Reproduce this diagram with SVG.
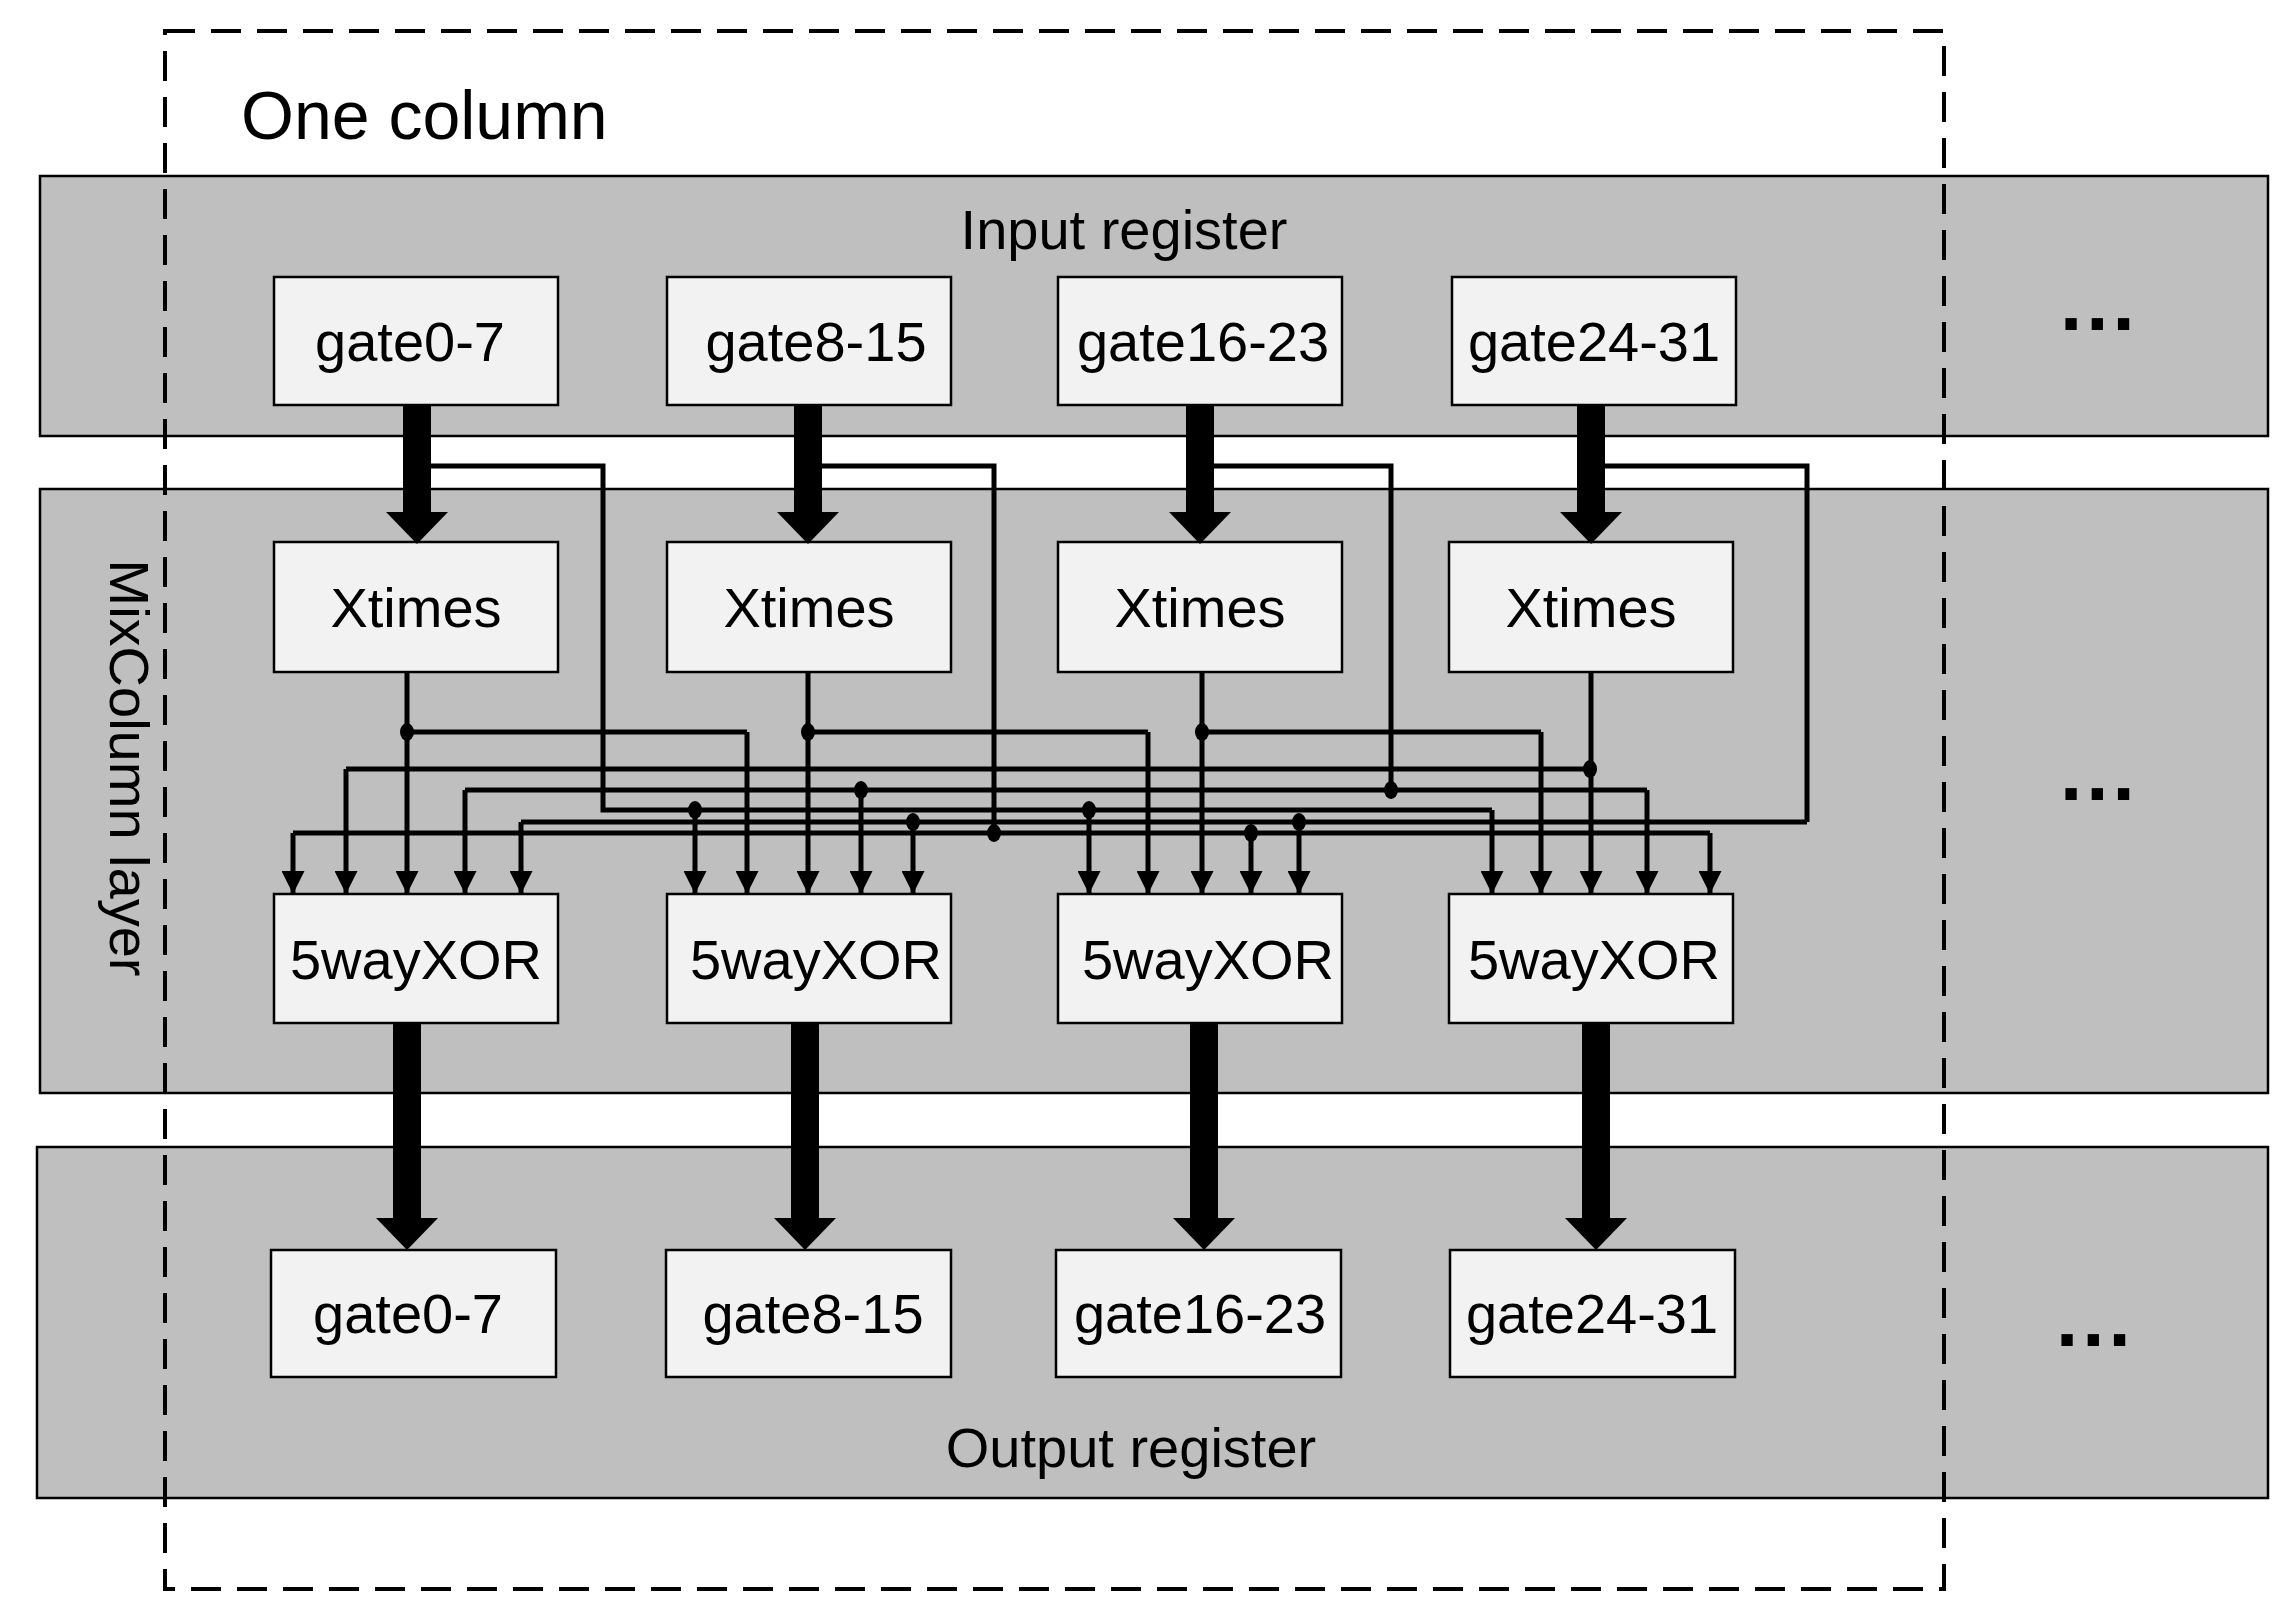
<svg xmlns="http://www.w3.org/2000/svg" width="2287" height="1612" viewBox="0 0 2287 1612">
<style>
.band{fill:#bfbfbf;stroke:#000;stroke-width:2.5}
.box{fill:#f2f2f2;stroke:#000;stroke-width:2.5}
.t{font-family:"Liberation Sans",Arial,sans-serif;font-size:56px;fill:#000;text-anchor:middle}
.w{fill:none;stroke:#000;stroke-width:5}
.a{fill:none;stroke:#000;stroke-width:5;marker-end:url(#ah)}
.th{fill:none;stroke:#000;stroke-width:28;marker-end:url(#tah)}
.dot{fill:#000}
.dots{font-family:"Liberation Sans",Arial,sans-serif;font-size:80px;font-weight:bold;letter-spacing:4px}
</style>
<defs>
<marker id="ah" markerUnits="userSpaceOnUse" markerWidth="23" markerHeight="23" refX="23" refY="11.5" orient="auto"><path d="M0,0 L23,11.5 L0,23 z" fill="#000"/></marker>
<marker id="tah" markerUnits="userSpaceOnUse" markerWidth="32" markerHeight="62" refX="0" refY="31" orient="auto"><path d="M0,0 L32,31 L0,62 z" fill="#000"/></marker>
</defs>
<rect width="2287" height="1612" fill="#fff"/>
<g id="input-register"><rect class="band" x="40" y="176" width="2228" height="260"/><text class="t" x="1124" y="249">Input register</text><text class="dots" x="2060" y="330">...</text></g>
<g id="mixcolumn-layer"><rect class="band" x="40" y="489" width="2228" height="604"/><text class="t" transform="translate(110,768) rotate(90)">MixColumn layer</text><text class="dots" x="2060" y="800">...</text></g>
<g id="output-register"><rect class="band" x="37" y="1147" width="2231" height="351"/><text class="t" x="1131" y="1467">Output register</text><text class="dots" x="2056" y="1346">...</text></g>
<g id="in0"><rect class="box" x="274" y="277" width="284" height="128"/><text class="t" x="410" y="361">gate0-7</text></g>
<g id="in1"><rect class="box" x="667" y="277" width="284" height="128"/><text class="t" x="816" y="361">gate8-15</text></g>
<g id="in2"><rect class="box" x="1058" y="277" width="284" height="128"/><text class="t" x="1203" y="361">gate16-23</text></g>
<g id="in3"><rect class="box" x="1452" y="277" width="284" height="128"/><text class="t" x="1594" y="361">gate24-31</text></g>
<g id="xt0"><rect class="box" x="274" y="542" width="284" height="130"/><text class="t" x="416" y="627">Xtimes</text></g>
<g id="xt1"><rect class="box" x="667" y="542" width="284" height="130"/><text class="t" x="809" y="627">Xtimes</text></g>
<g id="xt2"><rect class="box" x="1058" y="542" width="284" height="130"/><text class="t" x="1200" y="627">Xtimes</text></g>
<g id="xt3"><rect class="box" x="1449" y="542" width="284" height="130"/><text class="t" x="1591" y="627">Xtimes</text></g>
<g id="xor0"><rect class="box" x="274" y="894" width="284" height="129"/><text class="t" x="416" y="979">5wayXOR</text></g>
<g id="xor1"><rect class="box" x="667" y="894" width="284" height="129"/><text class="t" x="816" y="979">5wayXOR</text></g>
<g id="xor2"><rect class="box" x="1058" y="894" width="284" height="129"/><text class="t" x="1208" y="979">5wayXOR</text></g>
<g id="xor3"><rect class="box" x="1449" y="894" width="284" height="129"/><text class="t" x="1594" y="979">5wayXOR</text></g>
<g id="out0"><rect class="box" x="271" y="1250" width="285" height="127"/><text class="t" x="408" y="1333">gate0-7</text></g>
<g id="out1"><rect class="box" x="666" y="1250" width="285" height="127"/><text class="t" x="813" y="1333">gate8-15</text></g>
<g id="out2"><rect class="box" x="1056" y="1250" width="285" height="127"/><text class="t" x="1200" y="1333">gate16-23</text></g>
<g id="out3"><rect class="box" x="1450" y="1250" width="285" height="127"/><text class="t" x="1592" y="1333">gate24-31</text></g>
<g id="connectors">
<path class="w" d="M417,466 H603 V810 H1492 M808,466 H994 V833 M1200,466 H1391 V790 M1591,466 H1807 V822"/>
<path class="w" d="M346,769 H1590 M465,790 H1647 M521,822 H1807 M293,833 H1710 M407,732 H747 M808,732 H1148 M1202,732 H1541"/>
<path class="a" d="M407,672 V894"/><path class="a" d="M808,672 V894"/><path class="a" d="M1202,672 V894"/><path class="a" d="M1591,672 V894"/>
<path class="a" d="M293,833 V894"/><path class="a" d="M346,769 V894"/><path class="a" d="M465,790 V894"/><path class="a" d="M521,822 V894"/>
<path class="a" d="M695,810 V894"/><path class="a" d="M747,732 V894"/><path class="a" d="M861,790 V894"/><path class="a" d="M913,822 V894"/>
<path class="a" d="M1089,810 V894"/><path class="a" d="M1148,732 V894"/><path class="a" d="M1251,833 V894"/><path class="a" d="M1299,822 V894"/>
<path class="a" d="M1492,810 V894"/><path class="a" d="M1541,732 V894"/><path class="a" d="M1647,790 V894"/><path class="a" d="M1710,833 V894"/>
<g class="dot">
<ellipse cx="407" cy="732" rx="7" ry="9"/><ellipse cx="808" cy="732" rx="7" ry="9"/><ellipse cx="1202" cy="732" rx="7" ry="9"/><ellipse cx="1590" cy="769" rx="7" ry="9"/>
<ellipse cx="695" cy="810" rx="7" ry="9"/><ellipse cx="1089" cy="810" rx="7" ry="9"/><ellipse cx="861" cy="790" rx="7" ry="9"/><ellipse cx="1391" cy="790" rx="7" ry="9"/>
<ellipse cx="913" cy="822" rx="7" ry="9"/><ellipse cx="1299" cy="822" rx="7" ry="9"/><ellipse cx="994" cy="833" rx="7" ry="9"/><ellipse cx="1251" cy="833" rx="7" ry="9"/>
</g>
<path class="th" d="M417,405 V512"/><path class="th" d="M808,405 V512"/><path class="th" d="M1200,405 V512"/><path class="th" d="M1591,405 V512"/>
<path class="th" d="M407,1023 V1218"/><path class="th" d="M805,1023 V1218"/><path class="th" d="M1204,1023 V1218"/><path class="th" d="M1596,1023 V1218"/>
</g>
<g id="one-column"><rect x="165" y="31" width="1779" height="1558" fill="none" stroke="#000" stroke-width="4" stroke-dasharray="30,16"/><text x="241" y="139" font-family="Liberation Sans,Arial,sans-serif" font-size="68">One column</text></g>
</svg>
